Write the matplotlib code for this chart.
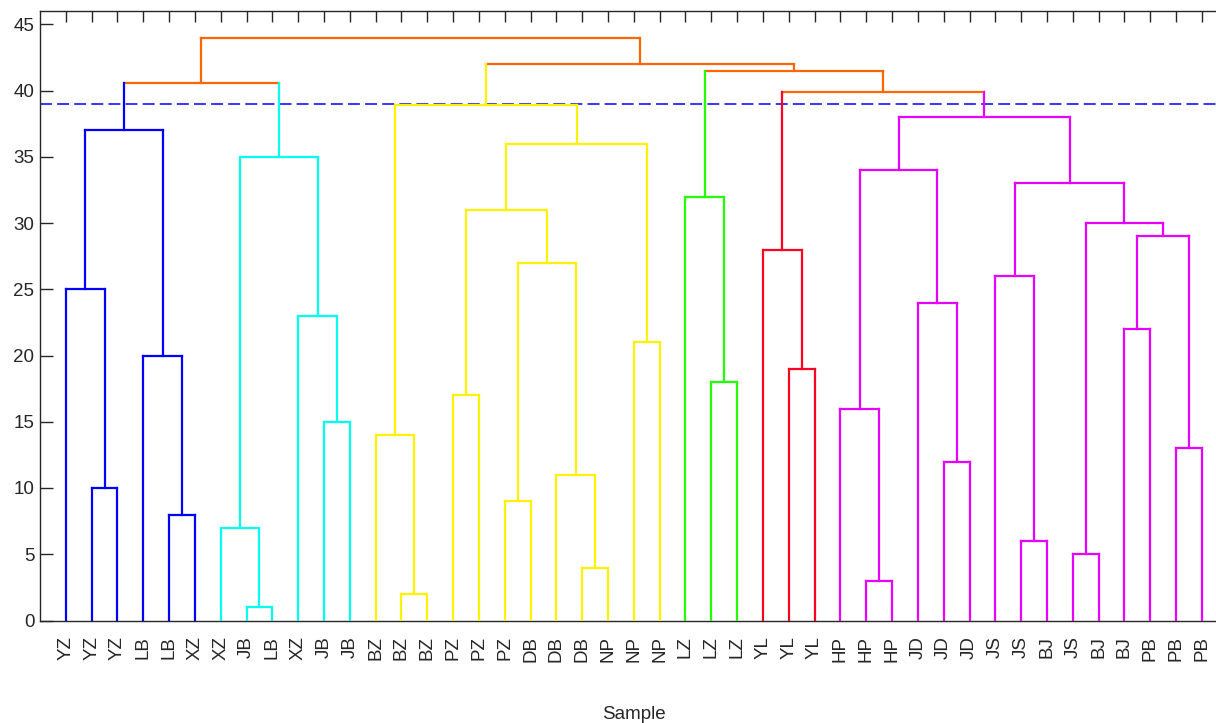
import matplotlib
matplotlib.use("Agg")
import matplotlib.pyplot as plt

plt.rcParams['font.family'] = ['Liberation Sans', 'DejaVu Sans']

# leaf labels in display order (leaf ids 1..45)
sample_labels = ['YZ', 'YZ', 'YZ', 'LB', 'LB', 'XZ', 'XZ', 'JB', 'LB', 'XZ', 'JB', 'JB',
                 'BZ', 'BZ', 'BZ', 'PZ', 'PZ', 'PZ', 'DB', 'DB', 'DB', 'NP', 'NP', 'NP',
                 'LZ', 'LZ', 'LZ', 'YL', 'YL', 'YL', 'HP', 'HP', 'HP', 'JD', 'JD', 'JD',
                 'JS', 'JS', 'BJ', 'JS', 'BJ', 'BJ', 'PB', 'PB', 'PB']

# linkage rows: (left node, right node, height); merge k gets node id 45 + k
link_left = [8, 14, 32, 21, 40, 38, 7, 5, 18, 2, 20, 35, 44, 13, 11, 31, 16, 26, 29, 4,
             23, 42, 10, 34, 1, 37, 54, 28, 67, 50, 62, 25, 71, 61, 52, 76, 70, 79, 59, 73,
             82, 77, 84, 86]
link_right = [9, 15, 33, 22, 41, 39, 46, 6, 19, 3, 49, 36, 45, 47, 12, 48, 17, 27, 30, 53,
              24, 43, 60, 57, 55, 51, 56, 64, 58, 74, 72, 63, 75, 69, 68, 66, 65, 78, 81, 83,
              80, 85, 87, 88]
link_height = [1, 2, 3, 4, 5, 6, 7, 8, 9, 10, 11, 12, 13, 14, 15, 16, 17, 18, 19, 20,
               21, 22, 23, 24, 25, 26, 27, 28, 29, 30, 31, 32, 33, 34, 35, 36, 37, 38, 38.9, 39.85,
               40.6, 41.5, 42, 44]

cut_height = 39
cluster_colors = ['#0000FF', '#00FFEE', '#FFF200', '#22FF00', '#FF0022', '#E800FF']
above_color = '#FF6600'

n_leaves = len(sample_labels)
node_x = {i: float(i) for i in range(1, n_leaves + 1)}
node_h = {i: 0.0 for i in range(1, n_leaves + 1)}
children = {}
for k, (a, b, h) in enumerate(zip(link_left, link_right, link_height), start=1):
    nid = n_leaves + k
    children[nid] = (a, b)
    node_x[nid] = (node_x[a] + node_x[b]) / 2
    node_h[nid] = h
root = n_leaves + len(link_height)

# assign cluster colours left to right below the cut
node_color = {}
color_iter = iter(cluster_colors)


def assign(node, color):
    if color is None and node_h[node] < cut_height:
        color = next(color_iter)
    node_color[node] = color if color is not None else above_color
    if node in children:
        for c in children[node]:
            assign(c, color)


assign(root, None)

fig = plt.figure(figsize=(12.16, 7.23), dpi=100)
ax = fig.add_axes([40 / 1216, 102.5 / 723, 1187.7 / 1216, 609.5 / 723])

lw = 1.6
for nid, (a, b) in children.items():
    h = node_h[nid]
    ax.plot([node_x[a], node_x[b]], [h, h], color=node_color[nid], lw=lw,
            solid_capstyle='projecting', zorder=3)
    for c in (a, b):
        ax.plot([node_x[c], node_x[c]], [node_h[c], h], color=node_color[c], lw=lw,
                solid_capstyle='projecting', zorder=3)

ax.axhline(cut_height, color='#0000FF', lw=1.1, linestyle=(0, (7.8, 3.4)), zorder=2)

ax.set_xlim(0, 46)
ax.set_ylim(0, 46)
ax.set_yticks(range(0, 46, 5))
ax.set_xticks(range(1, n_leaves + 1))
ax.set_xticklabels(sample_labels, rotation=90, fontsize=13.5, color='#262626')
ax.tick_params(axis='x', bottom=False, top=True, labelbottom=True, direction='in',
               length=7.7, width=1, color='#262626', pad=11)
ax.tick_params(axis='y', left=True, right=False, direction='in', length=9, width=1,
               color='#262626', labelsize=13.5, labelcolor='#262626', pad=4)
ax.spines['right'].set_visible(False)
for side in ('left', 'top', 'bottom'):
    ax.spines[side].set_color('#262626')
    ax.spines[side].set_linewidth(1)

ax.set_xlabel('Sample', fontsize=13.5, color='#262626', labelpad=32)

fig.savefig('out.png', dpi=100)
